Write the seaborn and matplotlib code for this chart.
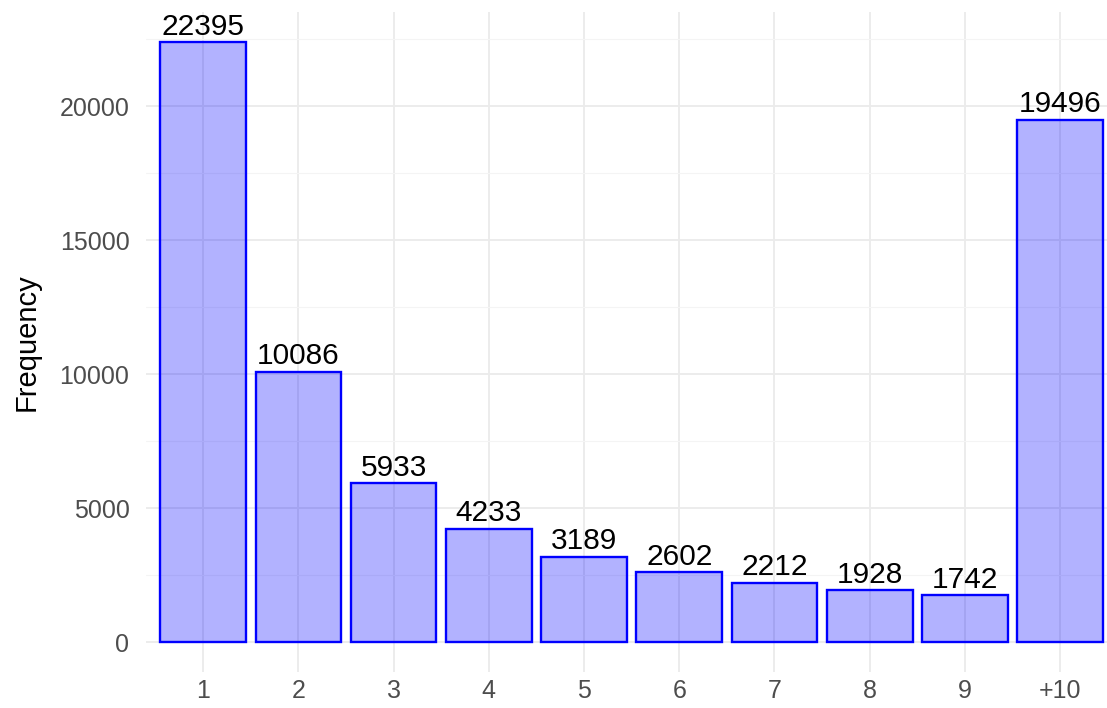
import matplotlib
matplotlib.use("Agg")
import matplotlib.pyplot as plt
from matplotlib.ticker import MultipleLocator
import pandas as pd
import seaborn as sns

# ---- Data ----
categories = ["1", "2", "3", "4", "5", "6", "7", "8", "9", "+10"]
frequency = [22395, 10086, 5933, 4233, 3189, 2602, 2212, 1928, 1742, 19496]

df = pd.DataFrame({"bucket": categories, "freq": frequency})

sns.set_theme(style="white")
plt.rcParams["font.family"] = ["Liberation Sans", "DejaVu Sans"]

fig = plt.figure(figsize=(11.07, 7.08), dpi=100)
ax = fig.add_axes([0.132, 0.0508, 0.8686, 0.932])

sns.barplot(data=df, x="bucket", y="freq", order=categories,
            color="blue", width=0.9, ax=ax, zorder=3)

for p in ax.patches:
    p.set_facecolor((0, 0, 1, 0.3))
    p.set_edgecolor("blue")
    p.set_linewidth(1.7)

ax.bar_label(ax.containers[0], labels=[str(v) for v in frequency],
             fontsize=21.5, color="black", padding=1)

# ---- ggplot minimal-like styling ----
ax.set_xlim(-0.6, 9.5)
ax.set_ylim(-1120, 23515)
ax.yaxis.set_major_locator(MultipleLocator(5000))
ax.yaxis.set_minor_locator(MultipleLocator(2500))
ax.set_axisbelow(True)
ax.grid(which="major", axis="both", color="#EBEBEB", linewidth=1.3)
ax.grid(which="minor", axis="y", color="#F4F4F4", linewidth=0.8)
for s in ax.spines.values():
    s.set_visible(False)
ax.tick_params(axis="y", which="both", length=0, labelsize=18,
               labelcolor="#4D4D4D", pad=12)
ax.tick_params(axis="x", which="both", length=0, labelsize=18,
               labelcolor="#4D4D4D", pad=5)

ax.set_xlabel("")
ax.set_ylabel("Frequency", fontsize=21, color="black", labelpad=14)

fig.savefig("out.png", dpi=100)
plt.close(fig)
